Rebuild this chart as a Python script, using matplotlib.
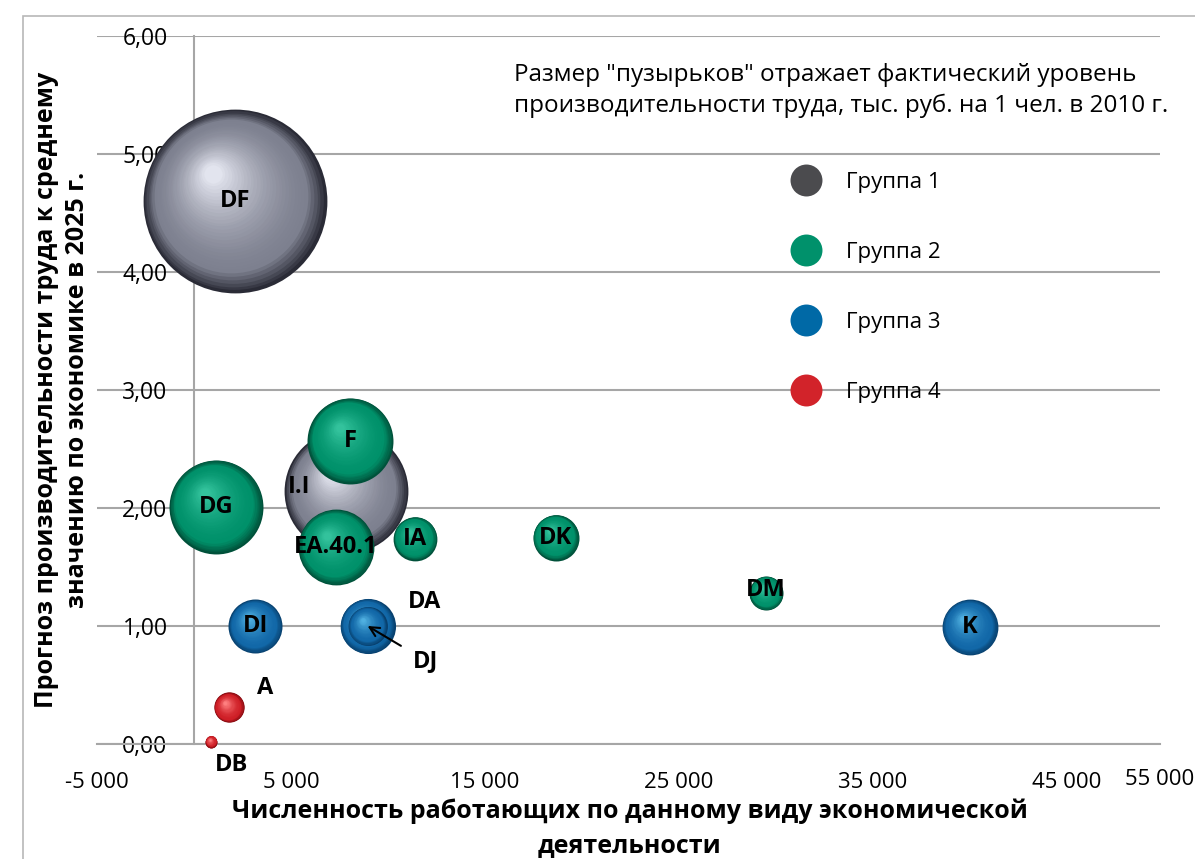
import matplotlib
matplotlib.use('Agg')
import matplotlib.pyplot as plt
import numpy as np
from matplotlib import transforms
from matplotlib.colors import to_rgb
from matplotlib.lines import Line2D
from matplotlib.patches import Rectangle

plt.rcParams['font.family'] = ['Open Sans', 'DejaVu Sans']

# виды деятельности
codes = ['DF', 'I.I', 'F', 'DG', 'EA.40.1', 'IA', 'DK', 'DM', 'DI', 'DA', 'DJ', 'K', 'A', 'DB']
groups = [1, 1, 2, 2, 2, 2, 2, 2, 3, 3, 3, 3, 4, 4]
# численность работающих
workers = [2100, 7850, 8050, 1130, 7320, 11400, 18650, 29500, 3150, 8950, 8950, 40000, 1800, 880]
# прогноз производительности к среднему по экономике в 2025 г.
forecast = [4.60, 2.14, 2.57, 2.01, 1.67, 1.74, 1.75, 1.28, 1.00, 1.00, 1.00, 0.99, 0.31, 0.02]
# производительность труда в 2010 г. (размер пузырька)
productivity = [8460, 3840, 1850, 2210, 1440, 480, 530, 290, 730, 760, 380, 780, 230, 36]

group_names = ['Группа 1', 'Группа 2', 'Группа 3', 'Группа 4']
legend_colors = ['#4b4b4e', '#00916b', '#0069a6', '#d2232a']
# тёмный край, основной, блик
shades = {
    1: ['#2a2b36', '#7d808f', '#e2e4ee'],
    2: ['#00513a', '#00916a', '#33c29c'],
    3: ['#08416f', '#1268a8', '#4fafe0'],
    4: ['#850a10', '#cf1f27', '#ff8080'],
}

fig = plt.figure(figsize=(11.95, 8.59), dpi=100)
ax = fig.add_axes([97 / 1195, 1 - 744 / 859, (1160 - 97) / 1195, 708 / 859])
ax.set_xlim(-5000, 49800)
ax.set_ylim(0, 6)

grid_col = '#a6a6a6'
ax.set_yticks(np.arange(0, 6.01, 1))
ax.set_xticks(np.arange(-5000, 45001, 10000))
ax.yaxis.set_major_formatter(plt.FuncFormatter(lambda v, p: f'{v:.2f}'.replace('.', ',')))
ax.xaxis.set_major_formatter(plt.FuncFormatter(lambda v, p: f'{v:,.0f}'.replace(',', ' ')))
ax.grid(axis='y', color=grid_col, lw=1.5, zorder=0)
ax.set_axisbelow(True)
for s in ['top', 'right']:
    ax.spines[s].set_visible(False)
ax.spines['left'].set_position(('data', 0))
ax.spines['left'].set_color(grid_col)
ax.spines['left'].set_linewidth(1.5)
ax.spines['bottom'].set_color(grid_col)
ax.spines['bottom'].set_linewidth(1.5)
ax.tick_params(axis='y', length=0, pad=19, labelsize=16.5, colors='black')
ax.tick_params(axis='x', length=0, pad=20, labelsize=16, colors='black')
ax.text(1.0, -0.05, '55 000', transform=ax.transAxes, ha='center', va='center', fontsize=16)


def blend(c1, c2, t):
    a, b = np.array(to_rgb(c1)), np.array(to_rgb(c2))
    return tuple(a + (b - a) * min(max(t, 0), 1))


def bubble(x, y, val, grp, k=2.07):
    s = val * k
    d = np.sqrt(s)  # диаметр в пунктах
    dark, base, light = shades[grp]
    n = 34
    for i in range(n):
        t = i / (n - 1)
        f = 1 - 0.9 * t
        if t < 0.18:
            col = blend(dark, base, t / 0.18)
        else:
            col = blend(base, light, ((t - 0.18) / 0.82) ** 1.6)
        tr = transforms.offset_copy(ax.transData, fig=fig, x=-0.24 * t * d / 2,
                                    y=0.3 * t * d / 2, units='points')
        ax.scatter([x], [y], s=s * f * f, color=col, linewidths=0, transform=tr,
                   zorder=3, clip_on=False)


for x, y, v, g in zip(workers, forecast, productivity, groups):
    bubble(x, y, v, g)

# подписи
lab_off = {'I.I': (-34, 3), 'DM': (0, 2), 'DA': (41, 17), 'A': (26, 14), 'DB': (15, -17)}
for c, x, y in zip(codes, workers, forecast):
    if c == 'DJ':
        ax.annotate('DJ', xy=(x, y), xytext=(42, -25), textcoords='offset points',
                    ha='center', va='center', fontsize=17, fontweight='bold', zorder=6,
                    arrowprops=dict(arrowstyle='->', color='black', lw=1.5,
                                    shrinkA=8, shrinkB=0))
        continue
    dx, dy = lab_off.get(c, (0, 0))
    ax.annotate(c, xy=(x, y), xytext=(dx, dy), textcoords='offset points',
                ha='center', va='center', fontsize=17, fontweight='bold', zorder=6)

ax.text(0.392, 0.962, 'Размер "пузырьков" отражает фактический уровень\n'
        'производительности труда, тыс. руб. на 1 чел. в 2010 г.',
        transform=ax.transAxes, ha='left', va='top', fontsize=17.5, linespacing=1.35)

handles = [Line2D([], [], marker='o', ls='none', markersize=23, markerfacecolor=c,
                  markeredgewidth=0) for c in legend_colors]
ax.legend(handles, group_names, loc='upper left', bbox_to_anchor=(775 / 1195, 1 - 163 / 859),
          bbox_transform=fig.transFigure, frameon=False, fontsize=16, labelspacing=2.2,
          handletextpad=0.8, borderaxespad=0)

fig.text(62 / 1195, 1 - 390 / 859, 'Прогноз производительности труда к среднему\n'
         'значению по экономике в 2025 г.', rotation=90, ha='center', va='center',
         fontsize=18, fontweight='bold', multialignment='center', linespacing=1.3)
fig.text(630 / 1195, 1 - 828 / 859, 'Численность работающих по данному виду экономической\n'
         'деятельности', ha='center', va='center', fontsize=18, fontweight='bold',
         multialignment='center', linespacing=1.45)

fig.patches.append(Rectangle((23 / 1195, -0.1), 1.2, (859 - 16) / 859 + 0.1,
                             transform=fig.transFigure, fill=False,
                             edgecolor='#b8b8b8', lw=1.2))

fig.savefig('out.png', dpi=100)
